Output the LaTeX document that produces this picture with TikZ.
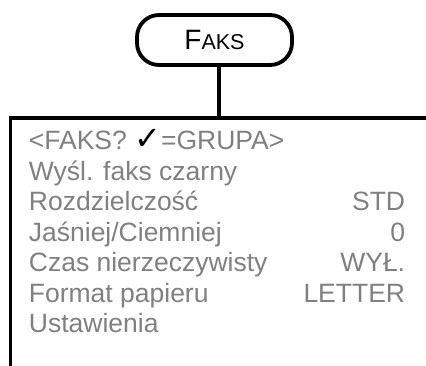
\documentclass[tikz,border=0pt]{standalone}
\usepackage{fontspec}
\setmainfont{Liberation Sans}
\newfontfamily\symfont{DejaVu Sans}
\definecolor{menugrey}{HTML}{808080}
\tikzset{
  menutext/.style={inner sep=0pt, text=menugrey, font=\fontsize{26.5}{30}\selectfont},
}
\begin{document}
\begin{tikzpicture}[x=1pt,y=-1pt,line width=3.8pt]
\useasboundingbox (0,0) rectangle (426,366);
\node[draw, rounded corners=22pt, minimum width=155pt, minimum height=50pt, inner sep=0pt] at (214.5,40) (faks) {\fontsize{28}{28}\selectfont F\fontsize{21.5}{21.5}\selectfont AKS};

\coordinate (corner) at (10.5,118);
\coordinate (rightend) at (426,118);
\coordinate (bottomend) at (10.5,366);
\coordinate (join) at (219,118);

\draw (faks.south -| join) -- (join);
\draw[line join=miter] (rightend) -- (corner) -- (bottomend);

\node[menutext, anchor=base west] at (27,150) (head) {<FAKS? {\symfont\color{black}\fontsize{32}{32}\selectfont ✓}=GRUPA>};
\node[menutext, anchor=base west] at (27,180.5) (send) {Wyśl. faks czarny};
\node[menutext, anchor=base west] at (27,211) (res) {Rozdzielczość};
\node[menutext, anchor=base west] at (27,241.5) (bright) {Jaśniej/Ciemniej};
\node[menutext, anchor=base west] at (27,272) (realtime) {Czas nierzeczywisty};
\node[menutext, anchor=base west] at (27,302.5) (paper) {Format papieru};
\node[menutext, anchor=base west] at (27,333) (setup) {Ustawienia};

\node[menutext, anchor=base east] at (407,211) (resval) {STD};
\node[menutext, anchor=base east] at (407,241.5) (brightval) {0};
\node[menutext, anchor=base east] at (407,272) (realtimeval) {WYŁ.};
\node[menutext, anchor=base east] at (407,302.5) (paperval) {LETTER};
\end{tikzpicture}
\end{document}
